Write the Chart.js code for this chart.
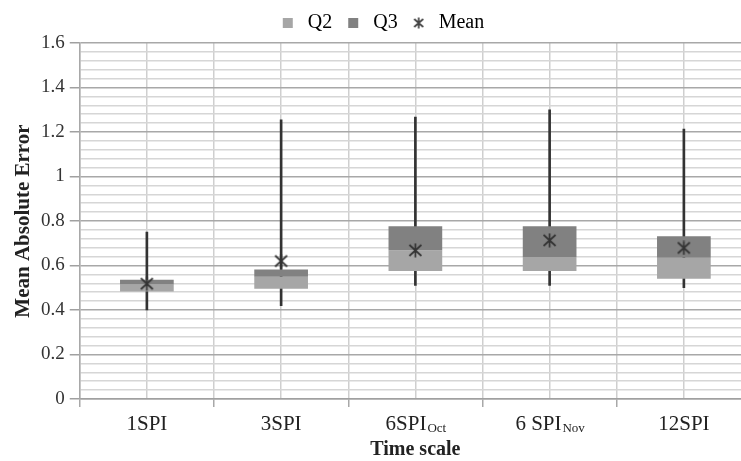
<!DOCTYPE html>
<html>
<head>
<meta charset="utf-8">
<script src="https://cdn.jsdelivr.net/npm/chart.js@4.4.0/dist/chart.umd.min.js"></script>
<style>
html,body{margin:0;padding:0;background:#fff;overflow:hidden;}
#wrap{width:760px;height:461px;}
</style>
</head>
<body>
<div id="wrap"><canvas id="myChart" width="760" height="461"></canvas></div>
<script>
// time scales (main text + subscript)
var scaleNames = ['1SPI', '3SPI', '6SPI', '6 SPI', '12SPI'];
var scaleSubs = ['', '', 'Oct', 'Nov', ''];

// box plot values
var minVals = [0.40, 0.42, 0.51, 0.51, 0.50];
var q1Vals = [0.483, 0.495, 0.575, 0.575, 0.54];
var medianVals = [0.515, 0.55, 0.668, 0.638, 0.635];
var q3Vals = [0.536, 0.582, 0.776, 0.776, 0.731];
var maxVals = [0.75, 1.255, 1.267, 1.30, 1.213];
var meanVals = [0.518, 0.62, 0.668, 0.713, 0.679];

var lightGray = '#a6a6a6';
var darkGray = '#818181';
var serif = '"Liberation Serif", "Times New Roman", serif';

function makeStar(size, color) {
    var c = document.createElement('canvas');
    c.width = size;
    c.height = size;
    var g = c.getContext('2d');
    g.strokeStyle = color;
    g.lineWidth = 1.7;
    g.beginPath();
    g.moveTo(1.5, 2); g.lineTo(size - 1.5, size - 2);
    g.moveTo(size - 1.5, 2); g.lineTo(1.5, size - 2);
    g.moveTo(size / 2, 0.5); g.lineTo(size / 2, size - 0.5);
    g.stroke();
    return c;
}
var star = makeStar(15, '#333');
var legendStar = makeStar(12, '#444');

function isMajor(v) {
    return Math.abs(v * 5 - Math.round(v * 5)) < 1e-6;
}

var q2Data = [], q3Data = [], whiskerData = [];
for (var i = 0; i < scaleNames.length; i++) {
    q2Data.push([q1Vals[i], medianVals[i]]);
    q3Data.push([medianVals[i], q3Vals[i]]);
    whiskerData.push([minVals[i], maxVals[i]]);
}

var subLabelPlugin = {
    id: 'subLabels',
    afterDraw: function (chart) {
        var xs = chart.scales.x;
        var ctx = chart.ctx;
        var y = xs.top + 25;
        ctx.save();
        ctx.fillStyle = '#222';
        ctx.textBaseline = 'middle';
        ctx.textAlign = 'left';
        for (var i = 0; i < scaleNames.length; i++) {
            var cx = xs.getPixelForTick(i);
            ctx.font = '21px ' + serif;
            var w1 = ctx.measureText(scaleNames[i]).width;
            ctx.font = '13px ' + serif;
            var w2 = scaleSubs[i] ? ctx.measureText(scaleSubs[i]).width : 0;
            var x0 = cx - (w1 + w2) / 2;
            ctx.font = '21px ' + serif;
            ctx.fillText(scaleNames[i], x0, y);
            if (scaleSubs[i]) {
                ctx.font = '13px ' + serif;
                ctx.fillText(scaleSubs[i], x0 + w1 + 1, y + 5);
            }
        }
        ctx.restore();
    }
};

new Chart(document.getElementById('myChart'), {
    type: 'bar',
    data: {
        labels: scaleNames,
        datasets: [{
            label: 'Whisker',
            data: whiskerData,
            backgroundColor: '#333',
            barThickness: 2,
            grouped: false,
            order: 3
        }, {
            label: 'Q2',
            data: q2Data,
            backgroundColor: lightGray,
            barPercentage: 0.4,
            categoryPercentage: 1,
            grouped: false,
            order: 2
        }, {
            label: 'Q3',
            data: q3Data,
            backgroundColor: darkGray,
            barPercentage: 0.4,
            categoryPercentage: 1,
            grouped: false,
            order: 1
        }, {
            type: 'line',
            label: 'Mean',
            data: meanVals,
            showLine: false,
            pointStyle: star,
            pointRadius: 7,
            order: 0
        }]
    },
    options: {
        responsive: false,
        animation: false,
        layout: { padding: { left: 11, right: 9, top: 2, bottom: 1 } },
        plugins: {
            tooltip: { enabled: false },
            legend: {
                position: 'top',
                labels: {
                    usePointStyle: true,
                    boxHeight: 10,
                    padding: 11,
                    color: '#333',
                    font: { family: serif, size: 20 },
                    generateLabels: function () {
                        return [
                            { text: 'Q2', fillStyle: lightGray, strokeStyle: lightGray, lineWidth: 0, pointStyle: 'rect', datasetIndex: 1 },
                            { text: 'Q3', fillStyle: darkGray, strokeStyle: darkGray, lineWidth: 0, pointStyle: 'rect', datasetIndex: 2 },
                            { text: 'Mean', fillStyle: '#444', strokeStyle: '#444', lineWidth: 0, pointStyle: legendStar, datasetIndex: 3 }
                        ];
                    }
                }
            }
        },
        scales: {
            x: {
                offset: true,
                grid: { offset: true, color: '#cfcfcf', lineWidth: 1.5, tickLength: 8, tickColor: '#a8a8a8' },
                border: { color: '#a0a0a0', width: 1.5 },
                ticks: {
                    color: 'rgba(0,0,0,0)',
                    font: { family: serif, size: 21, lineHeight: 1 },
                    padding: 3,
                    maxRotation: 0
                },
                title: {
                    display: true,
                    text: 'Time scale',
                    color: '#222',
                    font: { family: serif, size: 20, weight: 'bold', lineHeight: 1 },
                    padding: { top: 6, bottom: 0 }
                }
            },
            x2: {
                type: 'category',
                position: 'top',
                offset: true,
                grid: { offset: false, color: '#cfcfcf', lineWidth: 1.5, drawTicks: false },
                border: { display: false },
                ticks: { display: false }
            },
            y: {
                min: 0,
                max: 1.6,
                grid: {
                    color: function (ctx) { return ctx.tick && isMajor(ctx.tick.value) ? '#a8a8a8' : '#d6d6d6'; },
                    tickColor: function (ctx) { return ctx.tick && isMajor(ctx.tick.value) ? '#a0a0a0' : 'rgba(0,0,0,0)'; },
                    lineWidth: 1.5,
                    tickLength: 10
                },
                border: { color: '#a8a8a8', width: 1.5 },
                ticks: {
                    stepSize: 0.04,
                    autoSkip: false,
                    padding: 5,
                    color: '#333',
                    font: { family: serif, size: 19 },
                    callback: function (v) {
                        if (!isMajor(v)) return '';
                        var r = Math.round(v * 5) / 5;
                        return (r === 0 || r === 1) ? String(r) : r.toFixed(1);
                    }
                },
                title: {
                    display: true,
                    text: 'Mean Absolute Error',
                    color: '#222',
                    font: { family: serif, size: 21, weight: 'bold', lineHeight: 1 },
                    padding: { top: 2, bottom: 2 }
                }
            }
        }
    },
    plugins: [subLabelPlugin]
});
</script>
</body>
</html>
